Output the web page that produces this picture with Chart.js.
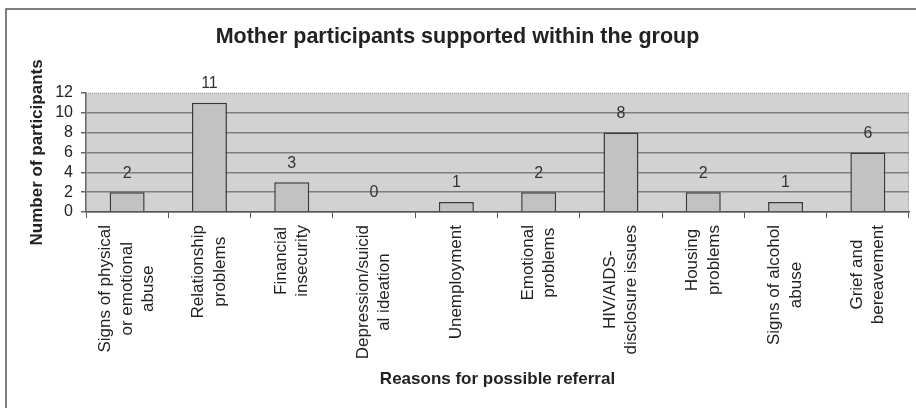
<!DOCTYPE html>
<html>
<head>
<meta charset="utf-8">
<script src="https://cdn.jsdelivr.net/npm/chart.js@4/dist/chart.umd.min.js"></script>
<style>
  body { margin: 0; background: #ffffff; }
  #wrap { width: 916px; height: 408px; }
</style>
</head>
<body>
<div id="wrap"><canvas id="myChart" width="916" height="408"></canvas></div>
<script>
// Dados do grafico
const categories = [
    ['Signs of physical', 'or emotional', 'abuse'],
    ['Relationship', 'problems'],
    ['Financial', 'insecurity'],
    ['Depression/suicid', 'al ideation'],
    ['Unemployment'],
    ['Emotional', 'problems'],
    ['HIV/AIDS-', 'disclosure issues'],
    ['Housing', 'problems'],
    ['Signs of alcohol', 'abuse'],
    ['Grief and', 'bereavement']
];
const participants = [2, 11, 3, 0, 1, 2, 8, 2, 1, 6];
const yTicks = [0, 2, 4, 6, 8, 10, 12];

const FONT = '"Liberation Sans", Arial, sans-serif';

// Fundo, moldura e area do grafico
const backgroundPlugin = {
    id: 'background',
    beforeDraw(chart) {
        const { ctx, chartArea } = chart;
        ctx.save();
        ctx.fillStyle = '#ffffff';
        ctx.fillRect(0, 0, chart.width, chart.height);

        // moldura externa (esquerda e topo)
        ctx.strokeStyle = '#555555';
        ctx.lineWidth = 1.5;
        ctx.beginPath();
        ctx.moveTo(6, chart.height);
        ctx.lineTo(6, 9);
        ctx.lineTo(chart.width, 9);
        ctx.stroke();

        // area de plotagem cinza
        ctx.fillStyle = '#d2d2d2';
        ctx.fillRect(chartArea.left, chartArea.top, chartArea.right - chartArea.left, chartArea.bottom - chartArea.top);

        ctx.strokeStyle = '#9a9a9a';
        ctx.lineWidth = 1;
        ctx.setLineDash([1, 1]);
        ctx.beginPath();
        ctx.moveTo(chartArea.left, chartArea.top + 0.5);
        ctx.lineTo(chartArea.right - 0.5, chartArea.top + 0.5);
        ctx.lineTo(chartArea.right - 0.5, chartArea.bottom);
        ctx.stroke();
        ctx.restore();
    }
};

// Rotulos das categorias (rotacionados, linhas centralizadas)
const categoryLabelsPlugin = {
    id: 'categoryLabels',
    afterDraw(chart) {
        const { ctx } = chart;
        const xScale = chart.scales.x;
        const lineHeight = 21.5;
        const top = chart.chartArea.bottom + 13;
        ctx.save();
        ctx.font = '17px ' + FONT;
        ctx.fillStyle = '#222222';
        ctx.textAlign = 'center';
        ctx.textBaseline = 'middle';
        categories.forEach((lines, i) => {
            const x = xScale.getPixelForTick(i);
            const maxW = Math.max(...lines.map(l => ctx.measureText(l).width));
            const cy = top + maxW / 2;
            lines.forEach((line, j) => {
                const lx = x + (j - (lines.length - 1) / 2) * lineHeight;
                ctx.save();
                ctx.translate(lx, cy);
                ctx.rotate(-Math.PI / 2);
                ctx.fillText(line, 0, 0);
                ctx.restore();
            });
        });
        ctx.restore();
    }
};

// Valores em cima das barras
const valueLabelsPlugin = {
    id: 'valueLabels',
    afterDatasetsDraw(chart) {
        const { ctx } = chart;
        const meta = chart.getDatasetMeta(0);
        ctx.save();
        ctx.font = '16px ' + FONT;
        ctx.fillStyle = '#333333';
        ctx.textAlign = 'center';
        ctx.textBaseline = 'middle';
        meta.data.forEach((bar, i) => {
            ctx.fillText(String(participants[i]), bar.x, bar.y - 19);
        });
        ctx.restore();
    }
};

const ctx = document.getElementById('myChart').getContext('2d');

const myChart = new Chart(ctx, {
    type: 'bar',
    data: {
        labels: categories,
        datasets: [{
            label: 'Number of participants',
            data: participants,
            backgroundColor: '#c2c2c2',
            borderColor: '#3a3a3a',
            borderWidth: 1.5,
            barPercentage: 0.425,
            categoryPercentage: 1
        }]
    },
    options: {
        responsive: false,
        animation: false,
        layout: { padding: { left: 6, right: 7, top: 0, bottom: 0 } },
        plugins: {
            legend: { display: false },
            tooltip: { enabled: false },
            title: {
                display: true,
                text: 'Mother participants supported within the group',
                color: '#222222',
                font: { family: FONT, size: 21.5, weight: 'bold' },
                padding: { top: 24, bottom: 43 }
            }
        },
        scales: {
            x: {
                grid: { drawOnChartArea: false, drawTicks: true, tickLength: 6, offset: true, color: '#555555' },
                border: { color: '#555555', width: 1.5 },
                ticks: { display: false },
                title: {
                    display: true,
                    text: 'Reasons for possible referral',
                    color: '#222222',
                    font: { family: FONT, size: 17, weight: 'bold' },
                    padding: { top: 0, bottom: 18 }
                },
                afterFit(scale) { scale.height = 196; }
            },
            y: {
                min: 0,
                max: 12,
                afterBuildTicks(scale) { scale.ticks = yTicks.map(v => ({ value: v })); },
                ticks: {
                    autoSkip: false,
                    color: '#222222',
                    padding: 8,
                    font: { family: FONT, size: 16 }
                },
                grid: {
                    color: (c) => c.tick && c.tick.value === 12 ? 'rgba(0,0,0,0)' : '#7e7e7e',
                    lineWidth: 1.5,
                    tickLength: 5,
                    tickColor: '#666666'
                },
                border: { color: '#666666', width: 1.5 },
                title: {
                    display: true,
                    text: 'Number of participants',
                    color: '#222222',
                    font: { family: FONT, size: 17, weight: 'bold' },
                    padding: { top: 21, bottom: 0 }
                },
                afterFit(scale) { scale.width = 80; }
            }
        }
    },
    plugins: [backgroundPlugin, categoryLabelsPlugin, valueLabelsPlugin]
});
</script>
</body>
</html>
